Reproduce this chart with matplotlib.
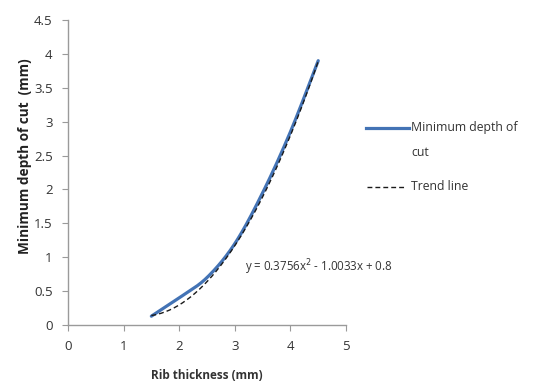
import matplotlib
matplotlib.use("Agg")
import matplotlib.pyplot as plt
from matplotlib.lines import Line2D
import numpy as np

plt.rcParams['font.family'] = ['Open Sans', 'DejaVu Sans']

rib_thickness = [1.5, 2.0, 2.5, 3.0, 3.5, 4.0, 4.5]
min_depth = [0.13, 0.40, 0.70, 1.20, 1.95, 2.85, 3.90]
coef_a, coef_b, coef_c = 0.3756, -1.0033, 0.8
x_ticks = [0, 1, 2, 3, 4, 5]
y_ticks = [0, 0.5, 1, 1.5, 2, 2.5, 3, 3.5, 4, 4.5]
y_tick_labels = ['0', '0.5', '1', '1.5', '2', '2.5', '3', '3.5', '4', '4.5']

W, H = 539, 389
fig = plt.figure(figsize=(W / 100, H / 100), dpi=100)
ax = fig.add_axes([0.126, 0.1645, 0.516, 0.784])

xd = np.array(rib_thickness); yd = np.array(min_depth)
pts_x, pts_y = [], []
n = len(xd)
for i in range(n - 1):
    i0, i3 = max(i - 1, 0), min(i + 2, n - 1)
    t = np.linspace(0, 1, 30)
    for k, arr in enumerate((xd, yd)):
        a0, a1, a2, a3 = arr[i0], arr[i], arr[i + 1], arr[i3]
        m1 = (a2 - a0) / 6
        m2 = (a3 - a1) / 6
        val = ((1 - t) ** 3) * a1 + 3 * ((1 - t) ** 2) * t * (a1 + m1) + 3 * (1 - t) * t ** 2 * (a2 - m2) + t ** 3 * a2
        (pts_x if k == 0 else pts_y).extend(val)

blue = '#4373b5'
ax.plot(pts_x, pts_y, color=blue, lw=2.3, solid_capstyle='round')
xs = np.linspace(rib_thickness[0], rib_thickness[-1], 200)
trend = coef_a * xs ** 2 + coef_b * xs + coef_c
ax.plot(xs, trend, color='#1a1a1a', lw=1.0, ls=(0, (3.5, 2.2)))

ax.set_xlim(0, 5)
ax.set_ylim(0, 4.5)
ax.set_xticks(x_ticks)
ax.set_yticks(y_ticks)
ax.set_yticklabels(y_tick_labels)
for s in ['top', 'right']:
    ax.spines[s].set_visible(False)
for s in ['left', 'bottom']:
    ax.spines[s].set_color('#9a9a9a')
    ax.spines[s].set_linewidth(1.0)
ax.tick_params(direction='out', length=4, color='#9a9a9a', labelsize=9.5, labelcolor='#333333', pad=7)

ax.set_xlabel('Rib thickness (mm)', fontsize=8.5, fontweight='bold', color='#333333', labelpad=11)
ax.set_ylabel('Minimum depth of cut  (mm)', fontsize=9.8, fontweight='bold', color='#222222', labelpad=3)
ax.yaxis.set_label_coords(-0.13, 0.555)

ax.text(3.18, 0.86, 'y = 0.3756x$^2$ - 1.0033x + 0.8', fontsize=8.3, color='#333333', va='center', ha='left')

# legend drawn in figure pixel coordinates
def fx(px): return px / W
def fy(py): return 1 - py / H
fig.add_artist(Line2D([fx(366), fx(409)], [fy(128), fy(128)], color=blue, lw=2.3, transform=fig.transFigure))
fig.text(fx(411), fy(128), 'Minimum depth of', fontsize=8.8, color='#333333', va='center', ha='left')
fig.text(fx(411), fy(153), 'cut', fontsize=8.8, color='#333333', va='center', ha='left')
fig.add_artist(Line2D([fx(367), fx(405)], [fy(187), fy(187)], color='#1a1a1a', lw=1.0,
                      ls=(0, (3.5, 2.2)), transform=fig.transFigure))
fig.text(fx(411), fy(187), 'Trend line', fontsize=8.8, color='#333333', va='center', ha='left')

fig.savefig('out.png', dpi=100)
